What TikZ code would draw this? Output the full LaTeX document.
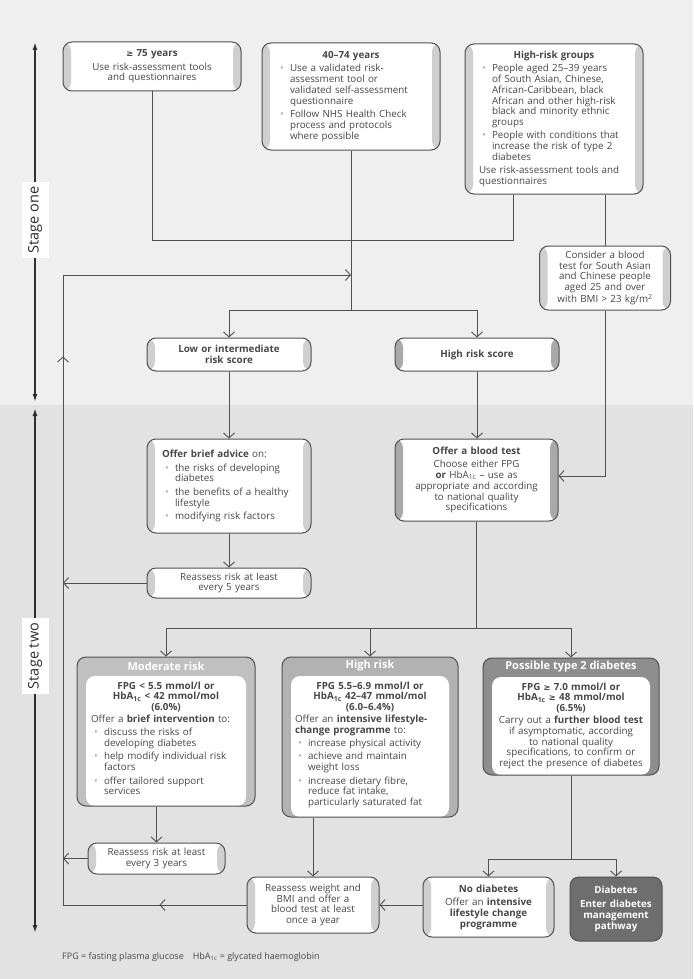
\documentclass[tikz,border=0pt]{standalone}
\usepackage{fontspec}
\setmainfont{Open Sans}
\newfontfamily\symfont[Scale=0.85]{DejaVu Sans}
\usetikzlibrary{arrows.meta,positioning,decorations.markings}

\definecolor{bgone}{HTML}{EFEFEF}
\definecolor{bgtwo}{HTML}{E2E2E2}
\definecolor{boxline}{HTML}{505050}
\definecolor{stripl}{HTML}{CFCFCF}
\definecolor{stripd}{HTML}{A9A9A9}
\definecolor{hdrl}{HTML}{C0C0C0}
\definecolor{hdrm}{HTML}{B2B2B2}
\definecolor{hdrd}{HTML}{8E8E8E}
\definecolor{diabfill}{HTML}{6E6E6E}
\definecolor{txt}{HTML}{474747}
\definecolor{dotgray}{HTML}{AFAFAF}
\definecolor{stagec}{HTML}{2E2E2E}

\setlength\parindent{0pt}
\newcommand\bodysize{\fontsize{9.8}{10.8}\selectfont}
\newcommand\atleast{{\symfont ≥}}
% bullet item with hanging indent, lines broken by \newline
\newcommand\bul[1]{\par\vskip2.5pt\hangindent=13pt\hangafter=1\noindent\hbox to13pt{\hskip3pt\textcolor{dotgray}{\textbullet}\hss}#1\par}

\begin{document}
\begin{tikzpicture}[x=1pt,y=-1pt,
  box/.style={draw=boxline, line width=1pt, rounded corners=9pt, fill=white, inner sep=0pt,
    text=txt, font=\bodysize,
    path picture={
      \fill[#1] (path picture bounding box.south west) rectangle ([xshift=8pt]path picture bounding box.north west);
      \fill[#1] (path picture bounding box.south east) rectangle ([xshift=-8pt]path picture bounding box.north east);}},
  box/.default=stripl,
  hdrbox/.style={draw=boxline, line width=1pt, rounded corners=9pt, fill=#1, inner sep=0pt,
    path picture={
      \fill[white] ([xshift=9pt]path picture bounding box.south west) rectangle ([xshift=-9pt,yshift=-19pt]path picture bounding box.north east);}},
  hdrtext/.style={text=white, font=\fontsize{11}{12}\selectfont\bfseries, inner sep=0pt},
  bodytext/.style={text=txt, font=\bodysize, inner sep=0pt, anchor=north},
  darkbox/.style={draw=boxline, line width=1pt, rounded corners=9pt, fill=diabfill, inner sep=0pt,
    text=white, font=\bodysize\bfseries, align=center},
  conn/.style={draw=boxline, color=boxline, line width=0.9pt},
  chev/.tip={Straight Barb[length=5pt,width=11pt]},
  midchev/.style={postaction={decorate,decoration={markings,mark=at position #1 with {\arrow{chev}}}}},
  stagearr/.style={draw=stagec, line width=1.8pt, {Latex[length=8pt,width=5pt]}-{Latex[length=8pt,width=5pt]}},
  stagelabel/.style={fill=white, rotate=90, text=stagec, font=\fontsize{14.5}{16}\selectfont,
    inner xsep=5pt, minimum height=27pt}
]
\useasboundingbox (0,0) rectangle (693,979);
\fill[bgone] (0,0) rectangle (693,405);
\fill[bgtwo] (0,405) rectangle (693,979);

% junction levels
\coordinate (yjoin) at (0,240);
\coordinate (yloop) at (0,275);
\coordinate (ysplit) at (0,310);
\coordinate (ysplit2) at (0,628);
\coordinate (ysplit3) at (0,859);
\coordinate (xloop) at (63,0);

% stage one
\node[box, minimum width=178, minimum height=49, text width=170, align=center] (age75) at (152,66.5)
  {\textbf{\atleast\ 75 years}\\[2.5pt]Use risk-assessment tools\\and questionnaires};
\node[box, minimum width=178, minimum height=107, text width=148, align=left] (age40) at (351,96.5)
  {{\centering\textbf{40–74 years}\par}%
   \bul{Use a validated risk-\newline assessment tool or\newline validated self-assessment\newline questionnaire}%
   \bul{Follow NHS Health Check\newline process and protocols\newline where possible}};
\node[box, minimum width=178, minimum height=150, text width=150, align=left] (hrgroups) at (554,119)
  {{\centering\textbf{High-risk groups}\par}%
   \bul{People aged 25–39 years\newline of South Asian, Chinese,\newline African-Caribbean, black\newline African and other high-risk\newline black and minority ethnic\newline groups}%
   \bul{People with conditions that\newline increase the risk of type 2\newline diabetes}%
   \vskip2.5pt Use risk-assessment tools and\\questionnaires};
\coordinate (cleft) at ([xshift=-41pt]hrgroups.south);
\node[box, minimum width=131, minimum height=64, text width=127, align=center] (consider) at (605,278)
  {Consider a blood\\test for South Asian\\and Chinese people\\aged 25 and over\\with BMI > 23 kg/m\textsuperscript{2}};
\node[box, minimum width=164, minimum height=33, text width=160, align=center] (lowscore) at (229,354.5)
  {\textbf{Low or intermediate}\\\textbf{risk score}};
\node[box=stripd, minimum width=164, minimum height=33, text width=160, align=center] (highscore) at (477,354.5)
  {\textbf{High risk score}};

% stage two
\node[box, minimum width=164, minimum height=94, text width=134, align=left] (advice) at (229,486)
  {{\textbf{Offer brief advice} on:\par}%
   \bul{the risks of developing\newline diabetes}%
   \bul{the benefits of a healthy\newline lifestyle}%
   \bul{modifying risk factors}};
\node[box=stripd, minimum width=163, minimum height=82, text width=159, align=center] (bloodtest) at (476.5,480)
  {\textbf{Offer a blood test}\\[2.5pt]Choose either FPG\\\textbf{or} HbA\textsubscript{1c} – use as\\appropriate and according\\to national quality\\specifications};
\node[box, minimum width=164, minimum height=30, text width=160, align=center] (reassess5) at (229,583)
  {Reassess risk at least\\every 5 years};

\node[hdrbox=hdrl, minimum width=178, minimum height=149] (moderate) at (166,731.5) {};
\node[hdrtext] (moderatehd) at ([yshift=-9.5pt]moderate.north) {Moderate risk};
\node[bodytext, text width=150, align=left] (moderatetx) at ([yshift=-25pt]moderate.north)
  {{\centering\bfseries FPG < 5.5 mmol/l or\\HbA\textsubscript{1c} < 42 mmol/mol\\(6.0\%)\par}%
   \vskip1pt Offer a \textbf{brief intervention} to:\par
   \bul{discuss the risks of\newline developing diabetes}%
   \bul{help modify individual risk\newline factors}%
   \bul{offer tailored support\newline services}};

\node[hdrbox=hdrm, minimum width=176, minimum height=160] (highrisk) at (370,737) {};
\node[hdrtext] (highriskhd) at ([yshift=-9.5pt]highrisk.north) {High risk};
\node[bodytext, text width=150, align=left] (highrisktx) at ([yshift=-25pt]highrisk.north)
  {{\centering\bfseries FPG 5.5–6.9 mmol/l or\\HbA\textsubscript{1c} 42–47 mmol/mol\\(6.0–6.4\%)\par}%
   \vskip1pt Offer an \textbf{intensive lifestyle-}\\\textbf{change programme} to:\par
   \bul{increase physical activity}%
   \bul{achieve and maintain\newline weight loss}%
   \bul{increase dietary fibre,\newline reduce fat intake,\newline particularly saturated fat}};

\node[hdrbox=hdrd, minimum width=176, minimum height=117] (possible) at (571,716.5) {};
\node[hdrtext] (possiblehd) at ([yshift=-9.5pt]possible.north) {Possible type 2 diabetes};
\node[bodytext, text width=164, align=center] (possibletx) at ([yshift=-25pt]possible.north)
  {\textbf{FPG \atleast\ 7.0 mmol/l or}\\\textbf{HbA\textsubscript{1c} \atleast\ 48 mmol/mol}\\\textbf{(6.5\%)}\\[1pt]%
   Carry out a \textbf{further blood test}\\if asymptomatic, according\\to national quality\\specifications, to confirm or\\reject the presence of diabetes};

\node[box, minimum width=137, minimum height=31, text width=133, align=center] (reassess3) at (156.5,858.5)
  {Reassess risk at least\\every 3 years};
\node[box, minimum width=132, minimum height=56, text width=128, align=center] (reweigh) at (313,905)
  {Reassess weight and\\BMI and offer a\\blood test at least\\once a year};
\node[box, minimum width=131, minimum height=60, text width=127, align=center] (nodiab) at (488.5,907)
  {\textbf{No diabetes}\\[2.5pt]Offer an \textbf{intensive}\\\textbf{lifestyle change}\\\textbf{programme}};
\node[darkbox, minimum width=92, minimum height=64, text width=88] (diab) at (616,909)
  {Diabetes\\[3pt]Enter diabetes\\management\\pathway};

\node[anchor=west, inner sep=0pt, text=txt, font=\fontsize{9}{11}\selectfont] (foot) at (62,957)
  {FPG = fasting plasma glucose\quad HbA\textsubscript{1c} = glycated haemoglobin};

% connectors
\draw[conn] (age75.south) |- (cleft |- yjoin) -- (cleft);
\draw[conn] (age40.south) -- (age40.south |- ysplit);
\draw[conn,{chev}-{chev}] (lowscore.north) |- (highscore.north |- ysplit) -- (highscore.north);
\draw[conn] (hrgroups.south -| consider.north) -- (consider.north);
\draw[conn,-{chev}] (consider.south) |- ([yshift=4pt]bloodtest.east);
\draw[conn,-{chev}] (lowscore.south) -- (advice.north);
\draw[conn,-{chev}] (highscore.south) -- (highscore.south |- bloodtest.north);
\draw[conn,-{chev}] (advice.south) -- (reassess5.north);
\draw[conn] (bloodtest.south) -- (bloodtest.south |- ysplit2);
\draw[conn,{chev}-{chev}] (moderate.north) |- (possible.north |- ysplit2) -- (possible.north);
\draw[conn,-{chev}] (highrisk.north |- ysplit2) -- (highrisk.north);
\draw[conn,-{chev}] (moderate.south -| reassess3.north) -- (reassess3.north);
\draw[conn,-{chev}] (highrisk.south -| reweigh.north) -- (reweigh.north);
\draw[conn] (possible.south) -- (possible.south |- ysplit3);
\draw[conn,{chev}-{chev}] (nodiab.north) |- (diab.north |- ysplit3) -- (diab.north);
\draw[conn,-{chev}] (nodiab.west |- reweigh.east) -- (reweigh.east);
\draw[conn,-{chev}] (reassess5.west) -- (reassess5.west -| xloop);
\draw[conn,-{chev}] (reassess3.west) -- (reassess3.west -| xloop);
\draw[conn,-{chev},midchev=87pt,midchev=732pt] (reweigh.west) -- (reweigh.west -| xloop) -- (xloop |- yloop) -- (age40.south |- yloop);

% stages
\coordinate (s1top) at (35,42);
\coordinate (s1bot) at (35,402);
\coordinate (s2top) at (35,408);
\coordinate (s2bot) at (35,933);
\draw[stagearr] (s1top) -- (s1bot);
\draw[stagearr] (s2top) -- (s2bot);
\node[stagelabel] (stageone) at (35,220) {Stage one};
\node[stagelabel] (stagetwo) at (35,656) {Stage two};
\end{tikzpicture}
\end{document}
